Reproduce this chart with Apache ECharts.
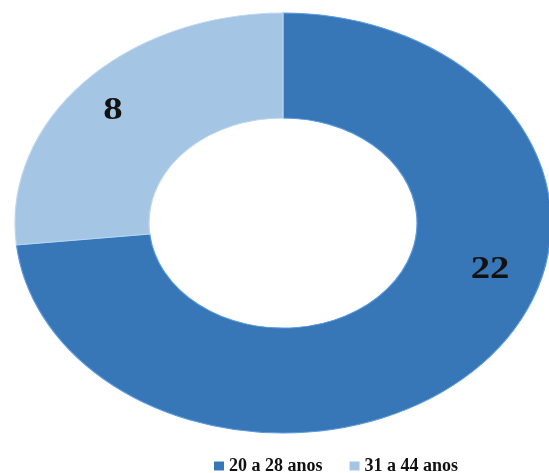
<!DOCTYPE html>
<html>
<head>
<meta charset="utf-8">
<script src="https://cdn.jsdelivr.net/npm/echarts@6/dist/echarts.min.js"></script>
<style>html,body{margin:0;padding:0;background:#fff}#main{width:549px;height:473px}</style>
</head>
<body>
<div id="main"></div>
<script>
var categories = ["20 a 28 anos", "31 a 44 anos"];
var values = [22, 8];
var colors = ["#3777b8", "#a5c5e5"];

var total = values.reduce(function (a, b) { return a + b; }, 0);
var chart = echarts.init(document.getElementById('main'));

// Geometry (layout only)
var CX = 283, CY = 223, RX = 268, RY = 210, INNER = 0.5;
var labelOffsets = [[207, 47], [-170, -112]];

function makeSeries(idx) {
  return {
    name: categories[idx],
    type: 'custom',
    coordinateSystem: 'none',
    data: [values[idx]],
    itemStyle: { color: colors[idx] },
    renderItem: function (params, api) {
      var before = 0;
      for (var i = 0; i < idx; i++) before += values[i];
      var v = api.value(0);
      var a0 = -Math.PI / 2 + before / total * Math.PI * 2;
      var a1 = -Math.PI / 2 + (before + v) / total * Math.PI * 2;
      return {
        type: 'group',
        children: [
          {
            type: 'group',
            x: CX, y: CY,
            scaleY: RY / RX,
            children: [{
              type: 'sector',
              shape: { cx: 0, cy: 0, r: RX, r0: RX * INNER, startAngle: a0, endAngle: a1, clockwise: true },
              style: {
                fill: colors[idx],
                stroke: idx === 0 ? '#5b9be0' : '#bcd6ef',
                lineWidth: 1.2
              }
            }]
          },
          {
            type: 'text',
            x: CX + labelOffsets[idx][0],
            y: CY + labelOffsets[idx][1],
            scaleX: 1.25,
            style: {
              text: String(v),
              font: 'bold 31px "Liberation Serif", "Times New Roman", serif',
              fill: '#111',
              align: 'center',
              verticalAlign: 'middle'
            }
          }
        ]
      };
    }
  };
}

chart.setOption({
  animation: false,
  backgroundColor: '#ffffff',
  legend: {
    data: categories,
    left: 209,
    top: 452,
    icon: 'rect',
    itemWidth: 10,
    itemHeight: 9,
    itemGap: 27,
    textStyle: {
      fontFamily: '"Liberation Serif", "Times New Roman", serif',
      fontWeight: 'bold',
      fontSize: 18,
      color: '#111'
    }
  },
  series: [makeSeries(0), makeSeries(1)]
});
</script>
</body>
</html>
